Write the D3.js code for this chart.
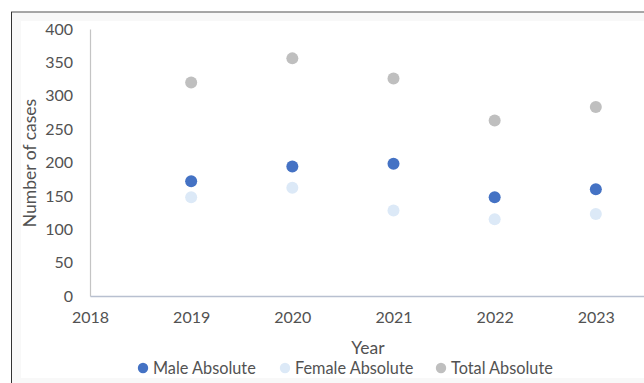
<!DOCTYPE html>
<html>
<head>
<meta charset="utf-8">
<script src="https://cdn.jsdelivr.net/npm/d3@7"></script>
<style>
  html, body { margin: 0; padding: 0; background: #ffffff; }
  svg { display: block; font-family: Lato, "Open Sans", sans-serif; }
</style>
</head>
<body>
<svg id="chart" width="644" height="383"></svg>
<script>
// Annual case counts by sex
const years = [2019, 2020, 2021, 2022, 2023];
const maleAbsolute = [172, 194, 198, 148, 160];
const femaleAbsolute = [148, 162, 128, 115, 123];
const totalAbsolute = [320, 356, 326, 263, 283];
const xTicks = [2018, 2019, 2020, 2021, 2022, 2023];
const yTicks = [0, 50, 100, 150, 200, 250, 300, 350, 400];
const seriesNames = ["Male Absolute", "Female Absolute", "Total Absolute"];
const seriesColors = ["#4472c4", "#dce9f7", "#bfbfbf"];

const series = [
  { name: seriesNames[0], color: seriesColors[0], values: maleAbsolute },
  { name: seriesNames[1], color: seriesColors[1], values: femaleAbsolute },
  { name: seriesNames[2], color: seriesColors[2], values: totalAbsolute }
];

const svg = d3.select("#chart");
const W = 644, H = 383;
const textColor = "#525252";

// Frame and chart background
svg.append("rect").attr("x", 11).attr("y", 12).attr("width", W - 11).attr("height", H - 12)
  .attr("fill", "#f8f8f8");
svg.append("rect").attr("x", 21).attr("y", 21).attr("width", W - 21).attr("height", 357)
  .attr("fill", "#ffffff");
svg.append("line").attr("x1", 11).attr("x2", W).attr("y1", 12).attr("y2", 12)
  .attr("stroke", "#8a8a8a").attr("stroke-width", 1.5);
svg.append("line").attr("x1", 11.5).attr("x2", 11.5).attr("y1", 12).attr("y2", H)
  .attr("stroke", "#333333").attr("stroke-width", 1);

// The value axis runs 2018-2024; the plot is clipped at the right edge of the page
const x = d3.scaleLinear().domain([2018, 2024]).range([90, 697]);
const y = d3.scaleLinear().domain([0, 400]).range([296, 29]);

// Y axis
const yAxis = svg.append("g").attr("transform", "translate(90,0)")
  .call(d3.axisLeft(y).tickValues(yTicks).tickSize(0).tickPadding(17).tickFormat(d3.format("d")));
yAxis.select(".domain").attr("stroke", "#c4c4c4").attr("stroke-width", 1.2);
yAxis.selectAll("text").attr("fill", textColor).attr("font-size", 16)
  .attr("font-family", "Lato, sans-serif");

// X axis
const xAxis = svg.append("g").attr("transform", "translate(0,296)")
  .call(d3.axisBottom(x).tickValues(xTicks).tickSize(0).tickPadding(16).tickFormat(d3.format("d")));
xAxis.select(".domain").attr("stroke", "#b8c0d0").attr("stroke-width", 1.6);
xAxis.selectAll("text").attr("fill", textColor).attr("font-size", 16)
  .attr("font-family", "Lato, sans-serif");

// Axis titles
svg.append("text").attr("x", 368).attr("y", 354).attr("text-anchor", "middle")
  .attr("fill", textColor).attr("font-size", 17.5).text("Year");
svg.append("text").attr("transform", "translate(36,163) rotate(-90)")
  .attr("text-anchor", "middle").attr("fill", textColor).attr("font-size", 17.5)
  .text("Number of cases");

// Scatter points
series.forEach(s => {
  svg.append("g").selectAll("circle").data(s.values).join("circle")
    .attr("cx", (d, i) => x(years[i]))
    .attr("cy", d => y(d))
    .attr("r", 6)
    .attr("fill", s.color);
});

// Legend
const legendX = [143, 285, 441];
const legend = svg.append("g");
series.forEach((s, i) => {
  const g = legend.append("g").attr("transform", `translate(${legendX[i]},368)`);
  g.append("circle").attr("r", 5.2).attr("fill", s.color);
  g.append("text").attr("x", 10).attr("y", 6).attr("fill", textColor)
    .attr("font-size", 16.3).text(s.name);
});
</script>
</body>
</html>
